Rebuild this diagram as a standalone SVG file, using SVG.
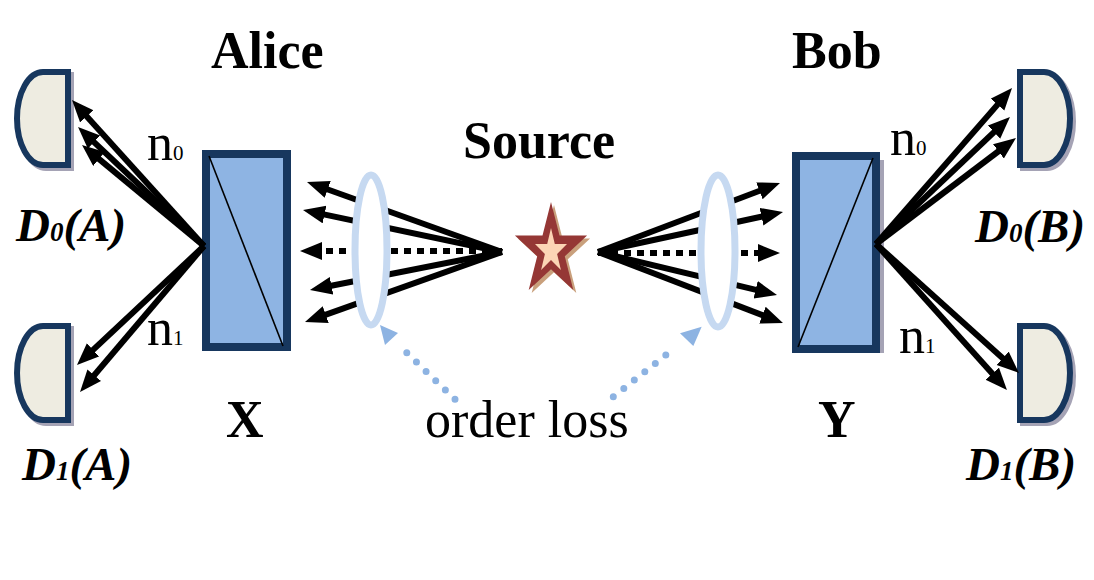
<svg xmlns="http://www.w3.org/2000/svg" width="1094" height="580" viewBox="0 0 1094 580">
<style>
.t{font-family:"Liberation Serif","DejaVu Serif",serif;fill:#000}
.b{font-weight:bold;font-size:52px}
.r{font-size:52px}
.d{font-weight:bold;font-style:italic;font-size:47px}
.sub{font-size:27px}
.nsub{font-size:21px}
.det{fill:#eeece1;stroke:#17375e;stroke-width:6}
.dsh{fill:none;stroke:#a5a3b5;stroke-width:6}
.box{fill:#8eb4e3;stroke:#17375e;stroke-width:8}
.bsh{fill:#a5a3b5}
.diag{stroke:#000;stroke-width:1.6}
.ray{stroke:#000;stroke-width:6;fill:none}
.dot{stroke:#000;stroke-width:6;stroke-dasharray:7 6;fill:none}
.lens{fill:#fff;stroke:#c6d9f1;stroke-width:7}
.bdot{stroke:#8db3e2;stroke-width:7;stroke-linecap:round;stroke-dasharray:0 13.4;fill:none}
.bhead{fill:#8db3e2}
</style>
<defs>
<marker id="ah" markerUnits="userSpaceOnUse" markerWidth="24" markerHeight="20" refX="8" refY="9" orient="auto">
<path d="M0,0 L22,9 L0,18 Z" fill="#000"/>
</marker>
</defs>

<g id="det-d0a">
<path class="dsh" transform="translate(3,3)" d="M68,72 H43 A26,46.5 0 0 0 43,165 H68 Z"/>
<path class="det" d="M68,72 H43 A26,46.5 0 0 0 43,165 H68 Z"/>
<text class="t d" x="16" y="241">D<tspan class="sub">0</tspan>(A)</text>
</g>
<g id="det-d1a">
<path class="dsh" transform="translate(3,3)" d="M68,326 H43 A26,47 0 0 0 43,420 H68 Z"/>
<path class="det" d="M68,326 H43 A26,47 0 0 0 43,420 H68 Z"/>
<text class="t d" x="22" y="480">D<tspan class="sub">1</tspan>(A)</text>
</g>
<g id="det-d0b">
<path class="dsh" transform="translate(3,3)" d="M1020,72 H1044 A26,46.5 0 0 1 1044,165 H1020 Z"/>
<path class="det" d="M1020,72 H1044 A26,46.5 0 0 1 1044,165 H1020 Z"/>
<text class="t d" x="975" y="242">D<tspan class="sub">0</tspan>(B)</text>
</g>
<g id="det-d1b">
<path class="dsh" transform="translate(3,3)" d="M1020,326 H1044 A26,47 0 0 1 1044,420 H1020 Z"/>
<path class="det" d="M1020,326 H1044 A26,47 0 0 1 1044,420 H1020 Z"/>
<text class="t d" x="966" y="480">D<tspan class="sub">1</tspan>(B)</text>
</g>

<g id="alice">
<rect class="bsh" x="206" y="158" width="85" height="193"/>
<rect class="box" x="206" y="154" width="81" height="193"/>
<line class="diag" x1="209" y1="156" x2="283" y2="346"/>
<text class="t b" x="211" y="68">Alice</text>
<text class="t b" x="226" y="437">X</text>
</g>
<g id="bob">
<rect class="bsh" x="800" y="160" width="84" height="193"/>
<rect class="box" x="796" y="156" width="80" height="193"/>
<line class="diag" x1="873" y1="158" x2="798" y2="347"/>
<text class="t b" x="792" y="68">Bob</text>
<text class="t b" x="818" y="437">Y</text>
</g>

<g id="connectors">
<line class="ray" marker-end="url(#ah)" x1="204" y1="246" x2="81.4" y2="110.4"/>
<line class="ray" marker-end="url(#ah)" x1="204" y1="246" x2="88.2" y2="136.6"/>
<line class="ray" marker-end="url(#ah)" x1="204" y1="246" x2="92.8" y2="153.9"/>
<line class="ray" marker-end="url(#ah)" x1="204" y1="246" x2="87.2" y2="355.4"/>
<line class="ray" marker-end="url(#ah)" x1="204" y1="246" x2="89.1" y2="381.3"/>

<line class="ray" marker-end="url(#ah)" x1="876" y1="244" x2="1002.8" y2="98.6"/>
<line class="ray" marker-end="url(#ah)" x1="876" y1="244" x2="999.8" y2="126.6"/>
<line class="ray" marker-end="url(#ah)" x1="876" y1="244" x2="1004.8" y2="146.5"/>
<line class="ray" marker-end="url(#ah)" x1="876" y1="244" x2="1008.6" y2="363.6"/>
<line class="ray" marker-end="url(#ah)" x1="876" y1="244" x2="997.6" y2="379.6"/>

<line class="ray" marker-end="url(#ah)" x1="502" y1="252" x2="320.2" y2="186.7"/>
<line class="ray" marker-end="url(#ah)" x1="502" y1="252" x2="316.7" y2="212.9"/>
<line class="dot" marker-end="url(#ah)" x1="502" y1="251" x2="314" y2="251"/>
<line class="ray" marker-end="url(#ah)" x1="502" y1="252" x2="323.7" y2="287.3"/>
<line class="ray" marker-end="url(#ah)" x1="502" y1="252" x2="318.2" y2="317.3"/>

<line class="ray" marker-end="url(#ah)" x1="598" y1="252" x2="766.9" y2="188"/>
<line class="ray" marker-end="url(#ah)" x1="598" y1="252" x2="769.3" y2="215"/>
<line class="dot" marker-end="url(#ah)" x1="598" y1="253" x2="766" y2="253"/>
<line class="ray" marker-end="url(#ah)" x1="598" y1="252" x2="763.4" y2="291.7"/>
<line class="ray" marker-end="url(#ah)" x1="598" y1="252" x2="769.9" y2="318"/>

<line class="bdot" x1="455" y1="399.3" x2="397.7" y2="344"/>
<polygon class="bhead" points="380,325 385,345 398,333"/>
<line class="bdot" x1="613.3" y1="396.7" x2="676" y2="347"/>
<polygon class="bhead" points="701.7,326.7 680,333.3 693.3,346"/>
</g>

<g id="lens-a">
<ellipse class="lens" cx="371" cy="250" rx="16" ry="75"/>
</g>
<g id="lens-b">
<ellipse class="lens" cx="718" cy="251" rx="17" ry="76"/>
</g>

<g id="source">
<polygon fill="#c9a07c" transform="translate(3,3)" points="551,202 559.5,235.6 587.1,235.6 564.8,256.3 573.3,289.9 551,269.2 528.7,289.9 537.2,256.3 514.9,235.6 542.5,235.6"/>
<polygon fill="#953735" points="551,202 559.5,235.6 587.1,235.6 564.8,256.3 573.3,289.9 551,269.2 528.7,289.9 537.2,256.3 514.9,235.6 542.5,235.6"/>
<polygon fill="#fcd5b5" points="551,228 554.8,244 567,244 557.1,254 560.9,270 551,260.1 541.1,270 544.9,254 535,244 547.2,244"/>
<text class="t b" x="463" y="158">Source</text>
</g>

<g id="labels">
<text class="t r" x="147" y="160">n<tspan class="nsub">0</tspan></text>
<text class="t r" x="147" y="345">n<tspan class="nsub">1</tspan></text>
<text class="t r" x="890" y="155">n<tspan class="nsub">0</tspan></text>
<text class="t r" x="899" y="353">n<tspan class="nsub">1</tspan></text>
<text class="t r" x="425" y="437">order loss</text>
</g>
</svg>
